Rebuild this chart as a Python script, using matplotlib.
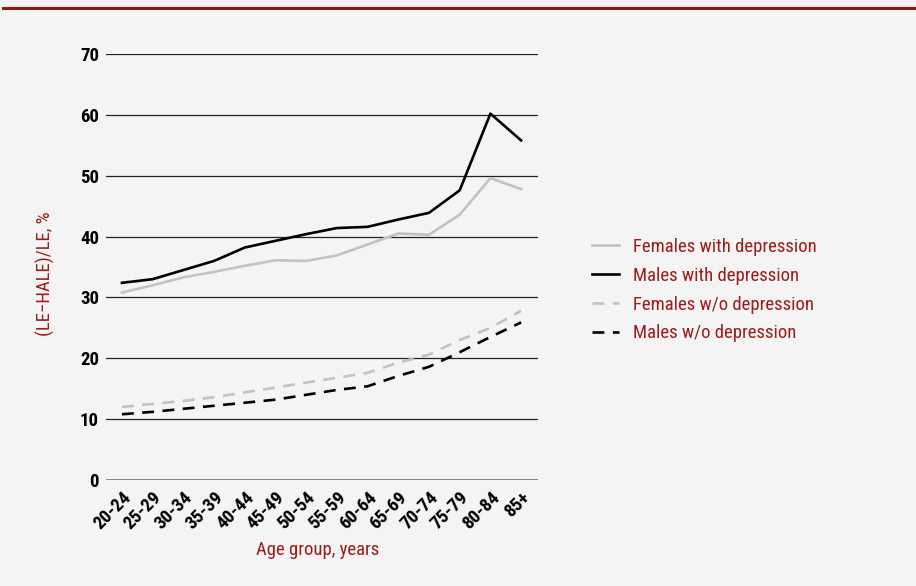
import matplotlib
matplotlib.use("Agg")
import matplotlib.pyplot as plt
from matplotlib.lines import Line2D
from matplotlib import font_manager as fm

age_groups = ["20-24", "25-29", "30-34", "35-39", "40-44", "45-49", "50-54",
              "55-59", "60-64", "65-69", "70-74", "75-79", "80-84", "85+"]
females_dep = [30.8, 32.0, 33.3, 34.2, 35.2, 36.1, 36.0, 36.9, 38.7, 40.5, 40.3, 43.6, 49.6, 47.8]
males_dep = [32.4, 33.0, 34.5, 36.0, 38.2, 39.3, 40.4, 41.4, 41.6, 42.8, 43.9, 47.6, 60.2, 55.8]
females_nodep = [12.0, 12.5, 13.0, 13.6, 14.4, 15.2, 16.0, 16.8, 17.6, 19.3, 20.6, 23.0, 25.0, 27.8]
males_nodep = [10.8, 11.2, 11.7, 12.2, 12.7, 13.2, 14.0, 14.8, 15.4, 17.1, 18.6, 21.0, 23.5, 25.9]
series_names = ["Females with depression", "Males with depression",
                "Females w/o depression", "Males w/o depression"]
yticks = [0, 10, 20, 30, 40, 50, 60, 70]

# pick a condensed font if one exists, else Lato
ttf = fm.fontManager.ttflist
names = {f.name for f in ttf}
family, stretch, scale = None, 'normal', 1.0
for cand in ['Liberation Sans Narrow', 'Roboto Condensed', 'Open Sans Condensed',
             'Fira Sans Condensed', 'Ubuntu Condensed', 'PT Sans Narrow', 'Arial Narrow']:
    if cand in names:
        family, scale = cand, 1.0
        break
if family is None:
    if any(f.name == 'DejaVu Sans' and f.stretch == 'condensed' for f in ttf):
        family, stretch, scale = 'DejaVu Sans', 'condensed', 0.92
    elif 'Lato' in names:
        family, scale = 'Lato', 0.88
    else:
        family, scale = 'DejaVu Sans', 0.8
plt.rcParams['font.family'] = [family, 'DejaVu Sans']
plt.rcParams['font.stretch'] = stretch

bg = "#f4f4f4"
red = "#9b1c1c"
grey = "#c2c2c2"

fig = plt.figure(figsize=(9.16, 5.86), dpi=100, facecolor=bg)
fig.add_artist(Line2D([0.003, 1.0], [1 - 8/586, 1 - 8/586], color="#8e1b12", lw=2.2,
                      transform=fig.transFigure))

ax = fig.add_axes([106/916, 1 - 480/586, (538-106)/916, (480-54)/586])
ax.set_facecolor(bg)
x = list(range(len(age_groups)))
lw = 1.9
ax.plot(x, females_dep, color=grey, lw=lw, label=series_names[0])
ax.plot(x, males_dep, color="black", lw=lw, label=series_names[1])
ax.plot(x, females_nodep, color=grey, lw=lw, ls=(0, (4.5, 3.2)), label=series_names[2])
ax.plot(x, males_nodep, color="black", lw=lw, ls=(0, (4.5, 3.2)), label=series_names[3])

ax.set_ylim(0, 70)
ax.set_xlim(-0.52, 13.55)
ax.set_yticks(yticks)
for t in yticks:
    if t == 0:
        ax.axhline(t, color="#7a7a7a", lw=2.0, zorder=0)
    else:
        ax.axhline(t, color="#222222", lw=0.9, zorder=0)
for s in ax.spines.values():
    s.set_visible(False)
ax.tick_params(axis='y', length=0, pad=5, labelsize=13.5 * scale)
ax.tick_params(axis='x', length=0, pad=6, labelsize=13.5 * scale)
ax.set_xticks(x)
ax.set_xticklabels(age_groups, rotation=45, ha='right', va='top', rotation_mode='anchor')
for lab in ax.get_yticklabels() + ax.get_xticklabels():
    lab.set_fontweight('bold')

ax.set_ylabel("(LE\u2212HALE)/LE, %", color=red, fontsize=13.5 * scale)
ax.yaxis.set_label_coords(-(106 - 55) / 432, 0.485)
ax.set_xlabel("Age group, years", color=red, fontsize=13.5 * scale)
ax.xaxis.set_label_coords(0.49, -(550 - 480) / 426)
ax.xaxis.label.set_va('center')

leg = fig.legend(loc='upper left', bbox_to_anchor=(575/916, 1 - 221/586), frameon=False,
                 fontsize=13.5 * scale, handlelength=1.45, handletextpad=0.75, labelspacing=0.58)
for t in leg.get_texts():
    t.set_color(red)

fig.savefig("out.png", dpi=100, facecolor=bg)
